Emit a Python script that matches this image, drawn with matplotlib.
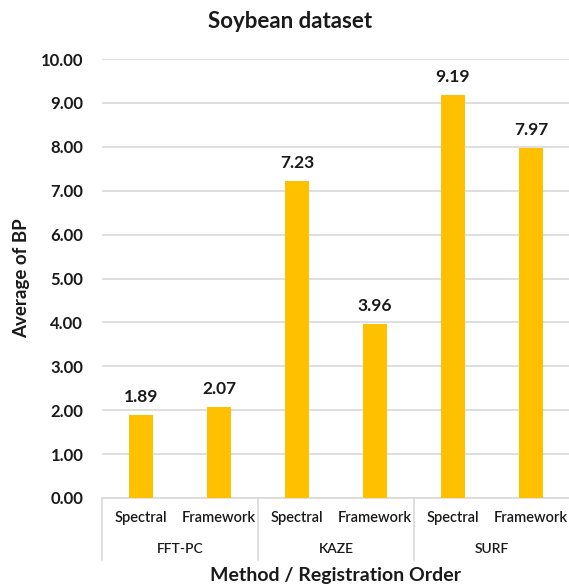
import matplotlib
matplotlib.use("Agg")
import matplotlib.pyplot as plt
from matplotlib.lines import Line2D

plt.rcParams['font.family'] = ['Lato', 'DejaVu Sans']

methods = ["FFT-PC", "KAZE", "SURF"]
orders = ["Spectral", "Framework"]
values = [1.89, 2.07, 7.23, 3.96, 9.19, 7.97]
yticks = [0, 1, 2, 3, 4, 5, 6, 7, 8, 9, 10]

bar_color = "#FFC000"
grid_color = "#D9D9D9"
text_color = "#1A1A1A"

fig = plt.figure(figsize=(5.69, 5.85), dpi=100)
ax = fig.add_axes([102 / 569, 87 / 585, 468 / 569, 439 / 585])

x = list(range(len(values)))
ax.bar(x, values, width=0.3, color=bar_color, zorder=3)

ax.set_xlim(-0.5, len(values) - 0.5)
ax.set_ylim(0, 10)
ax.set_yticks(yticks)
ax.set_yticklabels([f"{v:.2f}" for v in yticks], fontsize=12, fontweight="bold",
                   color=text_color)
ax.tick_params(axis="y", length=0, pad=13.5)
ax.set_xticks([])
ax.grid(axis="y", color=grid_color, linewidth=1.2, zorder=0)
for side in ("top", "right", "left"):
    ax.spines[side].set_visible(False)
ax.spines["bottom"].set_color(grid_color)
ax.spines["bottom"].set_linewidth(1.2)

# value labels above bars
for xi, v in zip(x, values):
    ax.annotate(f"{v:.2f}", (xi, v), xytext=(0, 10), textcoords="offset pixels",
                ha="center", va="bottom", fontsize=12.5, fontweight="bold",
                color=text_color)

# two-level category axis
trans = ax.get_xaxis_transform()
for i, xi in enumerate(x):
    ax.annotate(orders[i % 2], (xi, 0), xycoords=trans, xytext=(0, -20),
                textcoords="offset pixels", ha="center", va="center",
                fontsize=10.5, fontweight="semibold", color=text_color)
for g, name in enumerate(methods):
    ax.annotate(name, (2 * g + 0.5, 0), xycoords=trans, xytext=(0, -51),
                textcoords="offset pixels", ha="center", va="center",
                fontsize=10, fontweight="semibold", color=text_color)

# group divider lines below the axis
for b in [-0.5, 1.5, 3.5, 5.5]:
    disp0 = trans.transform((b, 0))
    disp1 = (disp0[0], disp0[1] - 62)
    f0 = fig.transFigure.inverted().transform(disp0)
    f1 = fig.transFigure.inverted().transform(disp1)
    fig.add_artist(Line2D([f0[0], f1[0]], [f0[1], f1[1]], color=grid_color,
                          linewidth=1.2, transform=fig.transFigure))

fig.text(0.5 * (102 + 570) / 569, 1 - 576 / 585, "Method / Registration Order",
         ha="center", va="center", fontsize=14, fontweight="bold", color=text_color)
fig.text(22 / 569, 1 - 278 / 585, "Average of BP", rotation=90,
         ha="center", va="center", fontsize=13.5, fontweight="bold", color=text_color)
fig.text(290 / 569, 1 - 22 / 585, "Soybean dataset",
         ha="center", va="center", fontsize=16, fontweight="bold", color=text_color)

fig.savefig("out.png", dpi=100)
